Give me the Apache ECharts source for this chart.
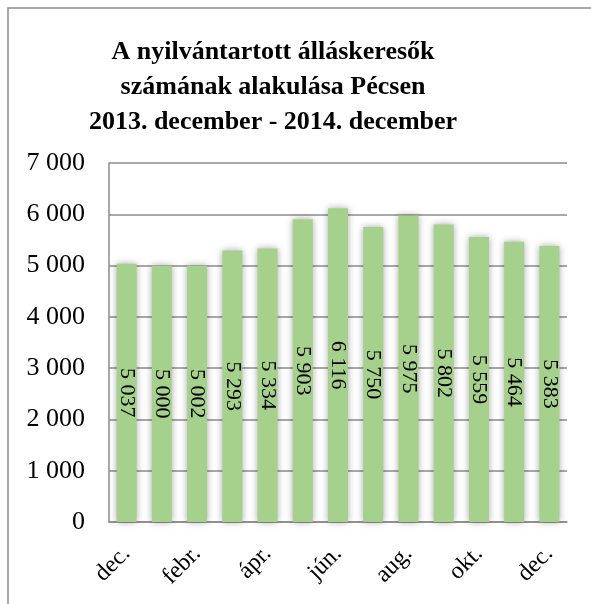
<!DOCTYPE html>
<html>
<head>
<meta charset="utf-8">
<script src="https://cdn.jsdelivr.net/npm/echarts@6/dist/echarts.min.js"></script>
<style>
html,body{margin:0;padding:0;background:#fff;}
#chart{width:591px;height:604px;}
</style>
</head>
<body>
<div id="chart"></div>
<script>
const titleText = 'A nyilvántartott álláskeresők\nszámának alakulása Pécsen\n2013. december - 2014. december';
const categories = ['dec.', 'jan.', 'febr.', 'márc.', 'ápr.', 'máj.', 'jún.', 'júl.', 'aug.', 'szept.', 'okt.', 'nov.', 'dec.'];
const values = [5037, 5000, 5002, 5293, 5334, 5903, 6116, 5750, 5975, 5802, 5559, 5464, 5383];
const yMin = 0, yMax = 7000, yStep = 1000;

const fmt = v => String(v).replace(/\B(?=(\d{3})+(?!\d))/g, ' ');
const serif = '"Liberation Serif", "Times New Roman", serif';

const chart = echarts.init(document.getElementById('chart'), null, {renderer: 'canvas'});
chart.setOption({
  backgroundColor: '#fff',
  animation: false,
  title: {
    text: titleText,
    left: 268, top: 30, textAlign: 'center',
    textStyle: {fontFamily: serif, fontWeight: 'bold', fontSize: 26, lineHeight: 35, color: '#000'}
  },
  graphic: [{
    type: 'rect', shape: {x: 8, y: 8, width: 640, height: 640},
    style: {fill: 'none', stroke: '#8c8c8c', lineWidth: 1.5}, silent: true, z: -1
  }],
  grid: {left: 109, right: 24, top: 163, bottom: 82},
  xAxis: {
    type: 'category', data: categories,
    axisLine: {show: true, lineStyle: {color: '#8c8c8c', width: 1.5}},
    axisTick: {show: false},
    axisLabel: {interval: 1, rotate: 45, margin: 28, fontFamily: serif, fontSize: 24, color: '#000'}
  },
  yAxis: {
    type: 'value', min: yMin, max: yMax, interval: yStep,
    axisLine: {show: true, lineStyle: {color: '#8c8c8c', width: 1.5}},
    axisTick: {show: false},
    splitLine: {lineStyle: {color: '#8c8c8c', width: 1.5}},
    axisLabel: {margin: 24, fontFamily: serif, fontSize: 26, color: '#000', formatter: fmt}
  },
  series: [{
    type: 'bar', data: values, barWidth: 20,
    itemStyle: {color: '#a6d18c', shadowColor: 'rgba(0,0,0,0.35)', shadowBlur: 7, shadowOffsetX: 0},
    label: {show: true, position: 'inside', rotate: -90, fontFamily: serif, fontSize: 22, color: '#000', formatter: p => fmt(p.value)}
  }]
});
</script>
</body>
</html>
